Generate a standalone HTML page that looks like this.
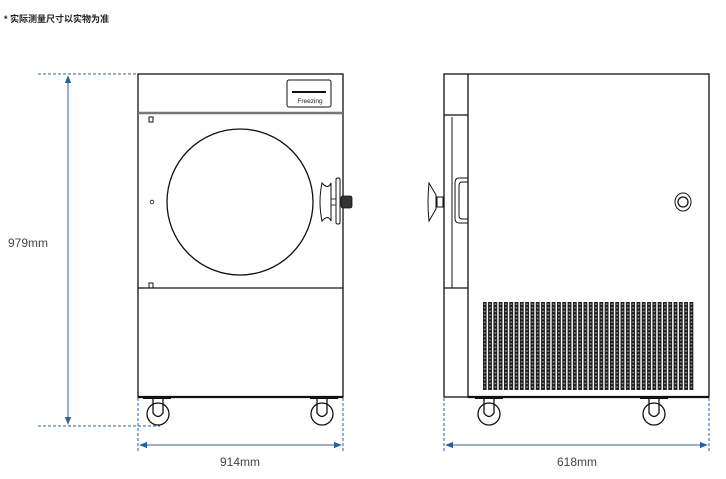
<!DOCTYPE html><html><head><meta charset="utf-8"><style>body{margin:0;background:#fff}svg{display:block}</style></head><body>
<svg width="726" height="479" viewBox="0 0 726 479" xmlns="http://www.w3.org/2000/svg" font-family="Liberation Sans, Noto Sans CJK SC, sans-serif">
<defs>
<pattern id="v" width="5.3" height="3.6" patternUnits="userSpaceOnUse"><rect width="5.3" height="3.6" fill="#fff"/><rect x="0.5" y="0" width="3.8" height="3.6" fill="#1a1a1a"/><circle cx="2.4" cy="1.8" r="0.9" fill="#999"/></pattern>
<marker id="a" viewBox="0 0 10 10" refX="9" refY="5" markerWidth="8" markerHeight="8" orient="auto-start-reverse"><path d="M0,1 L10,5 L0,9 Z" fill="#2b5f9e"/></marker>
</defs>
<text x="4" y="22" font-size="9" font-weight="bold" fill="#222">* 实际测量尺寸以实物为准</text>
<g stroke="#111" fill="none" stroke-width="1.3">
<rect x="138" y="74" width="205" height="323" fill="#fff"/>
<line x1="138" y1="113" x2="343" y2="113" stroke="#777" stroke-width="2.5"/>
<line x1="138" y1="288" x2="343" y2="288"/>
<line x1="138" y1="397" x2="343" y2="397" stroke-width="2.2"/>
<rect x="287" y="80" width="44" height="27" rx="2" stroke-width="1"/>
<line x1="292" y1="92" x2="326" y2="92" stroke-width="2"/>
<circle cx="240" cy="202" r="73"/>
<rect x="149" y="117" width="4" height="5" stroke-width="1"/>
<rect x="149" y="283" width="4" height="5" stroke-width="1"/>
<circle cx="152" cy="202" r="1.8" stroke-width="0.8"/>
<path d="M322,183 Q328,190 331,183 L331,221 Q328,214 322,221 Q318,202 322,183Z" stroke-width="1"/>
<rect x="336" y="178" width="4" height="46" rx="1.5" stroke-width="1"/>
<rect x="331" y="199" width="5" height="6" stroke-width="0.8"/>
<rect x="341" y="196" width="11" height="12" rx="2" fill="#333" stroke-width="0.8"/>
<line x1="143" y1="398" x2="171" y2="398" stroke-width="2"/><line x1="310" y1="398" x2="338" y2="398" stroke-width="2"/>
<circle cx="158" cy="414" r="11"/><path d="M153,398 V413 Q158,420 163,413 V398"/>
<circle cx="322" cy="414" r="11"/><path d="M317,398 V413 Q322,420 327,413 V398"/>
</g>
<g stroke="#111" fill="none" stroke-width="1.3">
<rect x="444" y="74" width="265" height="323" fill="#fff"/>
<line x1="468" y1="74" x2="468" y2="397"/>
<line x1="444" y1="115" x2="468" y2="115"/>
<line x1="444" y1="288" x2="468" y2="288"/>
<line x1="452" y1="117" x2="452" y2="288" stroke-width="1"/>
<line x1="468" y1="397" x2="709" y2="397" stroke-width="2.2"/>
<path d="M468,178 H459 Q455,178 455,183 V218 Q455,223 459,223 H468" stroke-width="1"/>
<path d="M468,182 H462 Q459,182 459,186 V215 Q459,219 462,219 H468" stroke-width="1"/>
<path d="M429,183 L436,195 V209 L429,221 Q427,202 429,183Z" stroke-width="1"/>
<rect x="437" y="197" width="6" height="10" stroke-width="1"/>
<ellipse cx="683" cy="202" rx="8" ry="9" stroke-width="1"/><circle cx="683" cy="202" r="5"/>
<line x1="475" y1="398" x2="503" y2="398" stroke-width="2"/><line x1="640" y1="398" x2="668" y2="398" stroke-width="2"/>
<circle cx="489" cy="414" r="11"/><path d="M484,398 V413 Q489,420 494,413 V398"/>
<circle cx="654" cy="414" r="11"/><path d="M649,398 V413 Q654,420 659,413 V398"/>
</g>
<rect x="483" y="302" width="211" height="88" fill="url(#v)"/>
<text x="310" y="103" font-size="6.5" text-anchor="middle" fill="#222">Freezing</text>
<g stroke="#2b5f9e" stroke-width="1" fill="none">
<line x1="38" y1="74" x2="138" y2="74" stroke-dasharray="3,2"/>
<line x1="38" y1="426" x2="160" y2="426" stroke-dasharray="3,2"/>
<line x1="68" y1="76" x2="68" y2="424" marker-start="url(#a)" marker-end="url(#a)"/>
<line x1="138" y1="398" x2="138" y2="453" stroke-dasharray="3,2"/>
<line x1="343" y1="398" x2="343" y2="453" stroke-dasharray="3,2"/>
<line x1="140" y1="445" x2="341" y2="445" marker-start="url(#a)" marker-end="url(#a)"/>
<line x1="444" y1="398" x2="444" y2="453" stroke-dasharray="3,2"/>
<line x1="709" y1="398" x2="709" y2="453" stroke-dasharray="3,2"/>
<line x1="446" y1="445" x2="707" y2="445" marker-start="url(#a)" marker-end="url(#a)"/>
</g>
<g font-size="12" fill="#444">
<text x="8" y="247">979mm</text>
<text x="240" y="466" text-anchor="middle">914mm</text>
<text x="577" y="466" text-anchor="middle">618mm</text>
</g>
</svg></body></html>
